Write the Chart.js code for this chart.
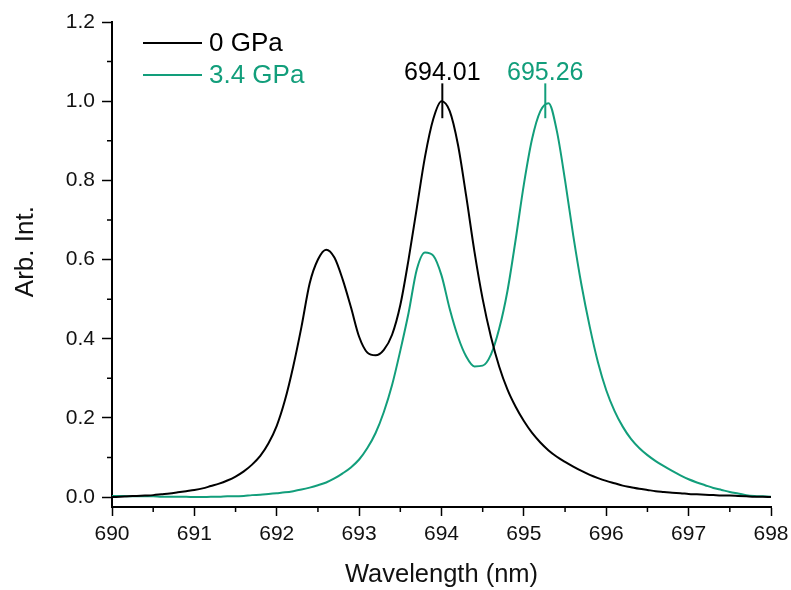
<!DOCTYPE html>
<html>
<head>
<meta charset="utf-8">
<script src="https://cdn.jsdelivr.net/npm/chart.js@4.4.1/dist/chart.umd.min.js"></script>
<style>
  html, body { margin: 0; padding: 0; background: #fff; }
</style>
</head>
<body>
<canvas id="myChart" width="791" height="590"></canvas>
<script>
// Spectra, 0.1 nm sampling
const wavelength = [
  690.0, 690.1, 690.2, 690.3, 690.4, 690.5, 690.6, 690.7, 690.8, 690.9,
  691.0, 691.1, 691.2, 691.3, 691.4, 691.5, 691.6, 691.7, 691.8, 691.9,
  692.0, 692.1, 692.2, 692.3, 692.4, 692.5, 692.6, 692.7, 692.8, 692.9,
  693.0, 693.1, 693.2, 693.3, 693.4, 693.5, 693.6, 693.7, 693.8, 693.9,
  694.0, 694.1, 694.2, 694.3, 694.4, 694.5, 694.6, 694.7, 694.8, 694.9,
  695.0, 695.1, 695.2, 695.3, 695.4, 695.5, 695.6, 695.7, 695.8, 695.9,
  696.0, 696.1, 696.2, 696.3, 696.4, 696.5, 696.6, 696.7, 696.8, 696.9,
  697.0, 697.1, 697.2, 697.3, 697.4, 697.5, 697.6, 697.7, 697.8, 697.9,
  698.0
];

const intensity0GPa = [
  0.000, 0.001, 0.002, 0.003, 0.004, 0.005, 0.007, 0.009, 0.012, 0.015,
  0.018, 0.022, 0.028, 0.034, 0.042, 0.052, 0.065, 0.082, 0.104, 0.136,
  0.180, 0.245, 0.330, 0.430, 0.540, 0.600, 0.625, 0.605, 0.550, 0.480,
  0.405, 0.365, 0.358, 0.372, 0.410, 0.485, 0.600, 0.730, 0.860, 0.955,
  1.000, 0.975, 0.890, 0.760, 0.620, 0.500, 0.405, 0.330, 0.272, 0.228,
  0.192, 0.162, 0.138, 0.118, 0.102, 0.089, 0.077, 0.066, 0.056, 0.048,
  0.041, 0.035, 0.029, 0.025, 0.021, 0.018, 0.015, 0.013, 0.011, 0.010,
  0.008, 0.007, 0.006, 0.005, 0.004, 0.004, 0.003, 0.002, 0.001, 0.001,
  0.000
];

const intensity34GPa = [
  0.003, 0.003, 0.002, 0.002, 0.002, 0.002, 0.001, 0.001, 0.001, 0.001,
  0.000, 0.000, 0.001, 0.001, 0.002, 0.002, 0.003, 0.005, 0.006, 0.008,
  0.010, 0.012, 0.015, 0.019, 0.024, 0.030, 0.037, 0.047, 0.060, 0.075,
  0.095, 0.124, 0.162, 0.215, 0.283, 0.370, 0.465, 0.575, 0.618, 0.610,
  0.560, 0.475, 0.405, 0.355, 0.330, 0.332, 0.360, 0.425, 0.520, 0.650,
  0.790, 0.905, 0.975, 0.995, 0.925, 0.800, 0.660, 0.535, 0.430, 0.340,
  0.270, 0.218, 0.178, 0.147, 0.124, 0.106, 0.091, 0.078, 0.066, 0.055,
  0.045, 0.037, 0.030, 0.023, 0.018, 0.013, 0.009, 0.005, 0.003, 0.002,
  0.001
];

const seriesNames = ["0 GPa", "3.4 GPa"];
const seriesColors = ["#000000", "#129e7b"];
const peakPositions = [694.01, 695.26];

const xTicks = [690, 691, 692, 693, 694, 695, 696, 697, 698];
const xMinorTicks = [690.5, 691.5, 692.5, 693.5, 694.5, 695.5, 696.5, 697.5];
const yTicks = [0, 0.2, 0.4, 0.6, 0.8, 1.0, 1.2];
const yMinorTicks = [0.1, 0.3, 0.5, 0.7, 0.9, 1.1];
const yTitle = "Arb. Int.";

const FONT = "'Liberation Sans', Arial, sans-serif";

// minor ticks, y title, peak markers and the in-plot legend
const extras = {
  id: "extras",
  afterDraw(chart) {
    const { ctx, chartArea, scales: { x, y } } = chart;
    ctx.save();

    ctx.strokeStyle = "#000";
    ctx.lineWidth = 1.5;
    ctx.beginPath();
    xMinorTicks.forEach((v) => {
      const px = x.getPixelForValue(v);
      ctx.moveTo(px, x.top);
      ctx.lineTo(px, x.top + 5);
    });
    yMinorTicks.forEach((v) => {
      const py = y.getPixelForValue(v);
      ctx.moveTo(y.right, py);
      ctx.lineTo(y.right - 5, py);
    });
    ctx.stroke();

    // y title sits a bit above the axis middle, as in the original
    ctx.save();
    ctx.translate(26, y.getPixelForValue(0.62));
    ctx.rotate(-Math.PI / 2);
    ctx.font = "26px " + FONT;
    ctx.fillStyle = "#111";
    ctx.textAlign = "center";
    ctx.textBaseline = "middle";
    ctx.fillText(yTitle, 0, 0);
    ctx.restore();

    ctx.font = "25px " + FONT;
    ctx.textAlign = "center";
    ctx.textBaseline = "alphabetic";
    peakPositions.forEach((p, i) => {
      const px = x.getPixelForValue(p);
      const top = y.getPixelForValue(1.045);
      ctx.strokeStyle = seriesColors[i];
      ctx.lineWidth = 2;
      ctx.beginPath();
      ctx.moveTo(px, top);
      ctx.lineTo(px, y.getPixelForValue(0.957));
      ctx.stroke();
      ctx.fillStyle = seriesColors[i];
      ctx.fillText(p.toFixed(2), px, top - 3);
    });

    ctx.font = "26px " + FONT;
    ctx.textAlign = "left";
    ctx.textBaseline = "middle";
    seriesNames.forEach((name, i) => {
      const ly = chartArea.top + 21 + i * 32;
      ctx.strokeStyle = seriesColors[i];
      ctx.lineWidth = 2;
      ctx.beginPath();
      ctx.moveTo(chartArea.left + 31, ly);
      ctx.lineTo(chartArea.left + 90, ly);
      ctx.stroke();
      ctx.fillStyle = seriesColors[i];
      ctx.fillText(name, chartArea.left + 97, ly + 1);
    });

    ctx.restore();
  },
};

const ctx = document.getElementById("myChart").getContext("2d");

new Chart(ctx, {
  type: "line",
  data: {
    datasets: [
      {
        label: seriesNames[0],
        data: wavelength.map((w, i) => ({ x: w, y: intensity0GPa[i] })),
        borderColor: seriesColors[0],
        borderWidth: 2,
        pointRadius: 0,
        cubicInterpolationMode: "monotone",
      },
      {
        label: seriesNames[1],
        data: wavelength.map((w, i) => ({ x: w, y: intensity34GPa[i] })),
        borderColor: seriesColors[1],
        borderWidth: 2,
        pointRadius: 0,
        cubicInterpolationMode: "monotone",
      },
    ],
  },
  options: {
    responsive: false,
    animation: false,
    devicePixelRatio: 1,
    layout: {
      padding: { top: 22, right: 20, bottom: 0, left: 0 },
    },
    scales: {
      x: {
        type: "linear",
        min: 690,
        max: 698,
        afterBuildTicks: (scale) => {
          scale.ticks = xTicks.map((v) => ({ value: v }));
        },
        afterFit: (scale) => {
          scale.height = 83;
          scale.paddingLeft = 0;
          scale.paddingRight = 0;
        },
        grid: {
          drawOnChartArea: false,
          tickLength: 9,
          tickColor: "#000",
          tickWidth: 1.5,
        },
        border: { display: true, color: "#000", width: 2 },
        ticks: {
          color: "#111",
          padding: 6,
          maxRotation: 0,
          font: { family: FONT, size: 21 },
        },
        title: {
          display: true,
          text: "Wavelength (nm)",
          color: "#111",
          padding: { top: 1, bottom: 0 },
          font: { family: FONT, size: 25.5 },
        },
      },
      y: {
        min: -0.025,
        max: 1.2,
        afterBuildTicks: (scale) => {
          scale.ticks = yTicks.map((v) => ({ value: v }));
        },
        afterFit: (scale) => {
          scale.width = 112;
        },
        grid: {
          drawOnChartArea: false,
          tickLength: 10,
          tickColor: "#000",
          tickWidth: 1.5,
        },
        border: { display: true, color: "#000", width: 2 },
        ticks: {
          color: "#111",
          padding: 7,
          font: { family: FONT, size: 21 },
          callback: (v) => v.toFixed(1),
        },
        title: { display: false },
      },
    },
    plugins: {
      legend: { display: false },
      tooltip: { enabled: false },
    },
  },
  plugins: [extras],
});
</script>
</body>
</html>
